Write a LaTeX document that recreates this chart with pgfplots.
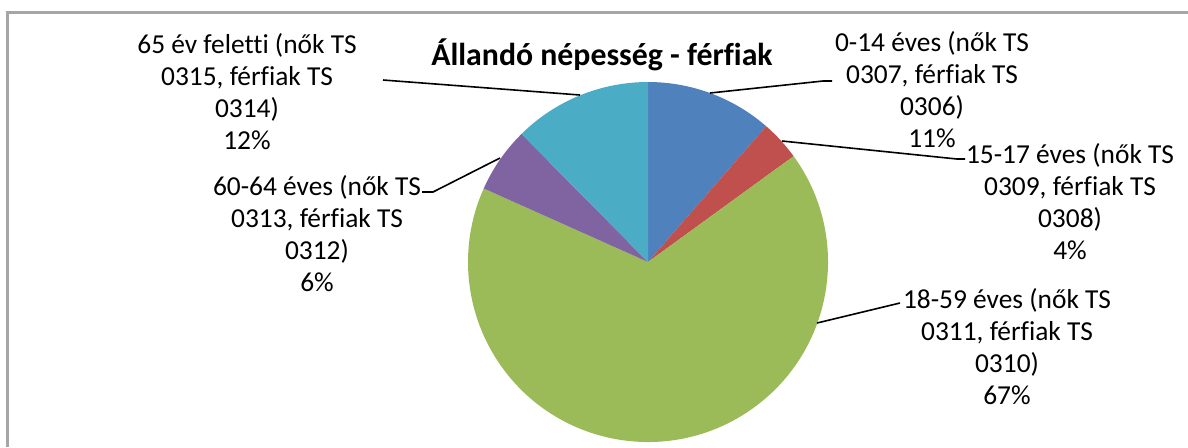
\documentclass[border=0pt]{standalone}
\usepackage{pgfplots}
\pgfplotsset{compat=1.18}
\usepackage{pgfplotstable}
\usepackage{fontspec}
\setmainfont{Carlito}[Ligatures=CommonOff]
\definecolor{c1}{HTML}{4F81BD}
\definecolor{c2}{HTML}{C0504D}
\definecolor{c3}{HTML}{9BBB59}
\definecolor{c4}{HTML}{8064A2}
\definecolor{c5}{HTML}{4BACC6}
\definecolor{framegray}{HTML}{A6A6A6}
\pgfplotstableread{
value
11.4
3.6
66.7
5.9
12.4
}\piedata
\pgfplotstablegetelem{0}{value}\of\piedata \let\vA\pgfplotsretval%
\pgfplotstablegetelem{1}{value}\of\piedata \let\vB\pgfplotsretval%
\pgfplotstablegetelem{2}{value}\of\piedata \let\vC\pgfplotsretval%
\pgfplotstablegetelem{3}{value}\of\piedata \let\vD\pgfplotsretval%
\pgfplotstablegetelem{4}{value}\of\piedata \let\vE\pgfplotsretval%
\pgfmathsetmacro\aA{90}%
\pgfmathsetmacro\aB{\aA-3.6*\vA}%
\pgfmathsetmacro\aC{\aB-3.6*\vB}%
\pgfmathsetmacro\aD{\aC-3.6*\vC}%
\pgfmathsetmacro\aE{\aD-3.6*\vD}%
\pgfmathsetmacro\aF{\aE-3.6*\vE}%
\begin{document}%
\begin{tikzpicture}
\begin{axis}[
  scale only axis, width=594pt, height=223.5pt,
  xmin=0, xmax=1188, ymin=0, ymax=447, y dir=reverse,
  hide axis, clip=false,
]
\coordinate (BL) at (axis cs:0,447);
\coordinate (TR) at (axis cs:1188,0);
\def\R{90pt}
\fill[c1] (axis cs:648,262) -- ++(\aA:\R) arc[start angle=\aA, end angle=\aB, radius=\R] -- cycle;
\fill[c2] (axis cs:648,262) -- ++(\aB:\R) arc[start angle=\aB, end angle=\aC, radius=\R] -- cycle;
\fill[c3] (axis cs:648,262) -- ++(\aC:\R) arc[start angle=\aC, end angle=\aD, radius=\R] -- cycle;
\fill[c4] (axis cs:648,262) -- ++(\aD:\R) arc[start angle=\aD, end angle=\aE, radius=\R] -- cycle;
\fill[c5] (axis cs:648,262) -- ++(\aE:\R) arc[start angle=\aE, end angle=\aF, radius=\R] -- cycle;
% frame
\draw[framegray, line width=1.5pt] (axis cs:7,447) -- (axis cs:7,12) -- (axis cs:1188,12);
% title
\node[font=\fontsize{15.9}{19}\selectfont\bfseries] at (axis cs:602,55) {Állandó népesség - férfiak};
% leader lines
\draw[black, line width=0.8pt] (axis cs:710,93) -- (axis cs:823,81) -- (axis cs:832,81);
\draw[black, line width=0.8pt] (axis cs:782,141) -- (axis cs:957,159) -- (axis cs:965,159);
\draw[black, line width=0.8pt] (axis cs:817,323) -- (axis cs:900,303);
\draw[black, line width=0.8pt] (axis cs:500,158) -- (axis cs:433,192) -- (axis cs:422,192);
\draw[black, line width=0.8pt] (axis cs:580,95) -- (axis cs:383,80);
% labels
\tikzset{lab/.style={align=center, font=\fontsize{13.7}{16}\selectfont, inner sep=0pt}}
\node[lab] at (axis cs:932,90) {0-14 éves (nők TS\\0307, férfiak TS\\0306)\\11\%};
\node[lab] at (axis cs:1070,202) {15-17 éves (nők TS\\0309, férfiak TS\\0308)\\4\%};
\node[lab] at (axis cs:1007,347) {18-59 éves (nők TS\\0311, férfiak TS\\0310)\\67\%};
\node[lab] at (axis cs:317,234) {60-64 éves (nők TS\\0313, férfiak TS\\0312)\\6\%};
\node[lab] at (axis cs:247,92) {65 év feletti (nők TS\\0315, férfiak TS\\0314)\\12\%};
\end{axis}
\pgfresetboundingbox
\path (BL) rectangle (TR);
\end{tikzpicture}%
\end{document}
